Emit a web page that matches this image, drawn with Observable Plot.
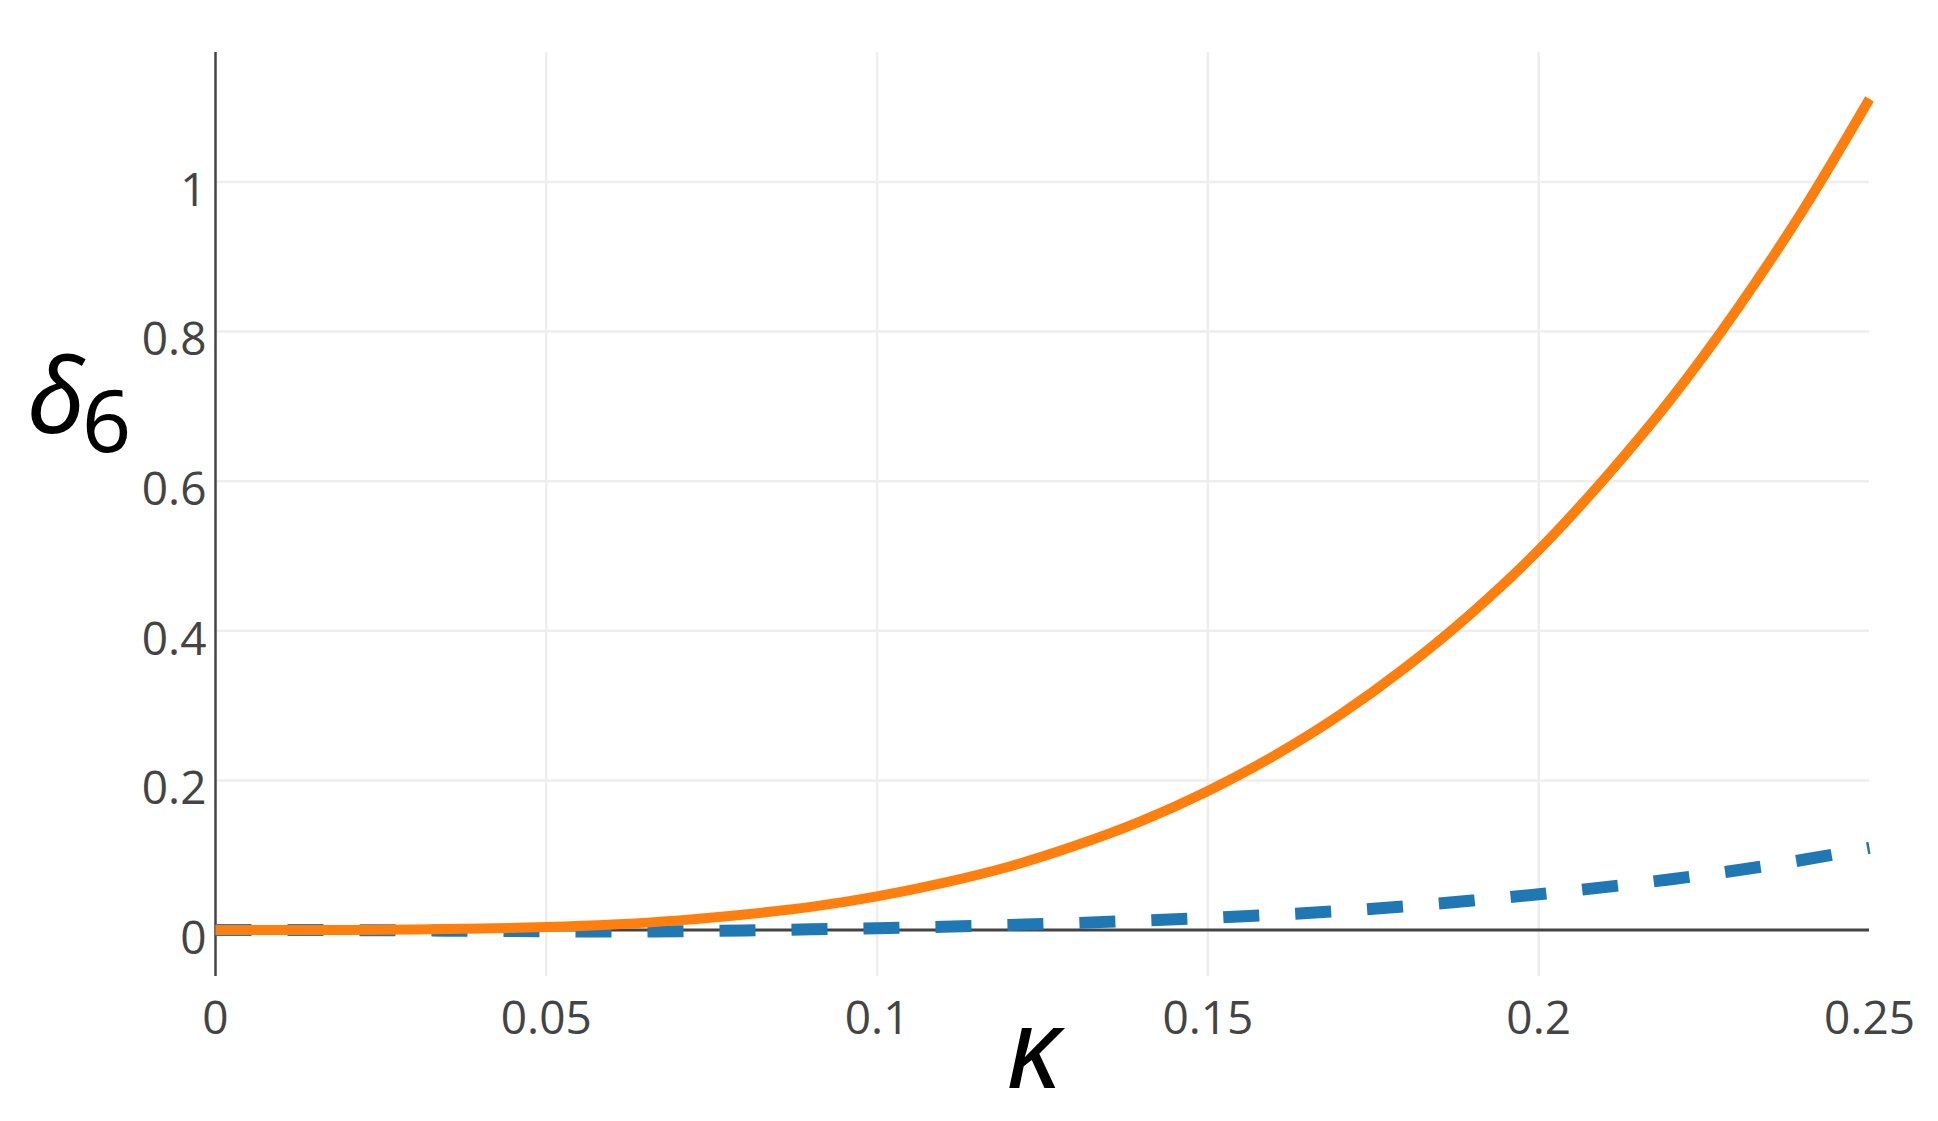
<!DOCTYPE html>
<html>
<head>
<meta charset="utf-8">
<script src="https://cdn.jsdelivr.net/npm/d3@7"></script>
<script src="https://cdn.jsdelivr.net/npm/@observablehq/plot@0.6"></script>
<style>
  html, body { margin: 0; padding: 0; background: #fff; }
  svg { display: block; }
</style>
</head>
<body>
<div id="chart"></div>
<script>
// κ values (x)
const kappa = [0, 0.01, 0.02, 0.03, 0.04, 0.05, 0.06, 0.07, 0.08, 0.09, 0.10, 0.11, 0.12,
  0.13, 0.14, 0.15, 0.16, 0.17, 0.18, 0.19, 0.20, 0.21, 0.22, 0.23, 0.24, 0.25];
// solid orange series
const deltaSolid = [0, 0, 0.0002, 0.0007, 0.002, 0.004, 0.0075, 0.013, 0.021, 0.031, 0.045,
  0.063, 0.085, 0.113, 0.146, 0.186, 0.233, 0.288, 0.352, 0.425, 0.508, 0.604, 0.71, 0.83, 0.963, 1.111];
// dashed blue series
const deltaDashed = [0, 0, 0, -0.0005, -0.001, -0.0015, -0.002, -0.0015, -0.0005, 0.001, 0.0025,
  0.0045, 0.0068, 0.0095, 0.0127, 0.0163, 0.0205, 0.0255, 0.032, 0.0395, 0.048, 0.0575, 0.068, 0.080, 0.094, 0.110];

const xTicks = [0, 0.05, 0.1, 0.15, 0.2, 0.25];
const xTickLabels = ["0", "0.05", "0.1", "0.15", "0.2", "0.25"];
const yTicks = [0, 0.2, 0.4, 0.6, 0.8, 1];
const yTickLabels = ["0", "0.2", "0.4", "0.6", "0.8", "1"];

const solid = kappa.map((k, i) => ({k, v: deltaSolid[i]}));
const dashed = kappa.map((k, i) => ({k, v: deltaDashed[i]}));

const chart = Plot.plot({
  width: 1938,
  height: 1121,
  marginLeft: 215,
  marginRight: 69,
  marginTop: 52,
  marginBottom: 145,
  style: {fontFamily: "'Open Sans', sans-serif", background: "#fff", color: "#444"},
  x: {domain: [0, 0.25], label: null},
  y: {domain: [-0.062, 1.173], label: null},
  marks: [
    Plot.gridX(xTicks.filter(d => d > 0 && d < 0.25), {stroke: "#eeeeee", strokeOpacity: 1, strokeWidth: 2.5}),
    Plot.gridY(yTicks.filter(d => d > 0), {stroke: "#eeeeee", strokeOpacity: 1, strokeWidth: 2.5}),
    Plot.ruleY([0], {stroke: "#444", strokeWidth: 3}),
    Plot.ruleX([0], {stroke: "#444", strokeWidth: 2.5}),
    Plot.line(dashed, {x: "k", y: "v", stroke: "#1f77b4", strokeWidth: 12, strokeDasharray: "36,36",
      strokeLinecap: "butt", strokeLinejoin: "round", curve: "monotone-x"}),
    Plot.line(solid, {x: "k", y: "v", stroke: "#ff7f0e", strokeWidth: 10,
      strokeLinecap: "butt", strokeLinejoin: "round", curve: "monotone-x"}),
    Plot.axisX(xTicks, {tickSize: 0, tickPadding: 25, fontSize: 46, fill: "#444", label: null,
      tickFormat: d => xTickLabels[xTicks.indexOf(d)]}),
    Plot.axisY(yTicks, {tickSize: 0, tickPadding: 9, fontSize: 46, fill: "#444", label: null, dy: 9,
      tickFormat: d => yTickLabels[yTicks.indexOf(d)]})
  ]
});

document.getElementById("chart").appendChild(chart);

const svg = d3.select(chart);
const yTitle = svg.append("text")
  .attr("x", 27).attr("y", 433)
  .attr("text-anchor", "start")
  .attr("fill", "#000")
  .style("font-family", "'Noto Sans', sans-serif")
  .style("font-size", "104px")
  .style("font-style", "italic");
yTitle.append("tspan").text("δ");
yTitle.append("tspan").attr("x", 82).attr("y", 452)
  .style("font-size", "86px").style("font-style", "normal").text("6");

svg.append("text")
  .attr("x", 1034).attr("y", 1088)
  .attr("text-anchor", "middle")
  .attr("fill", "#000")
  .style("font-family", "'Noto Sans', sans-serif")
  .style("font-size", "112px")
  .style("font-style", "italic")
  .text("κ");
</script>
</body>
</html>
